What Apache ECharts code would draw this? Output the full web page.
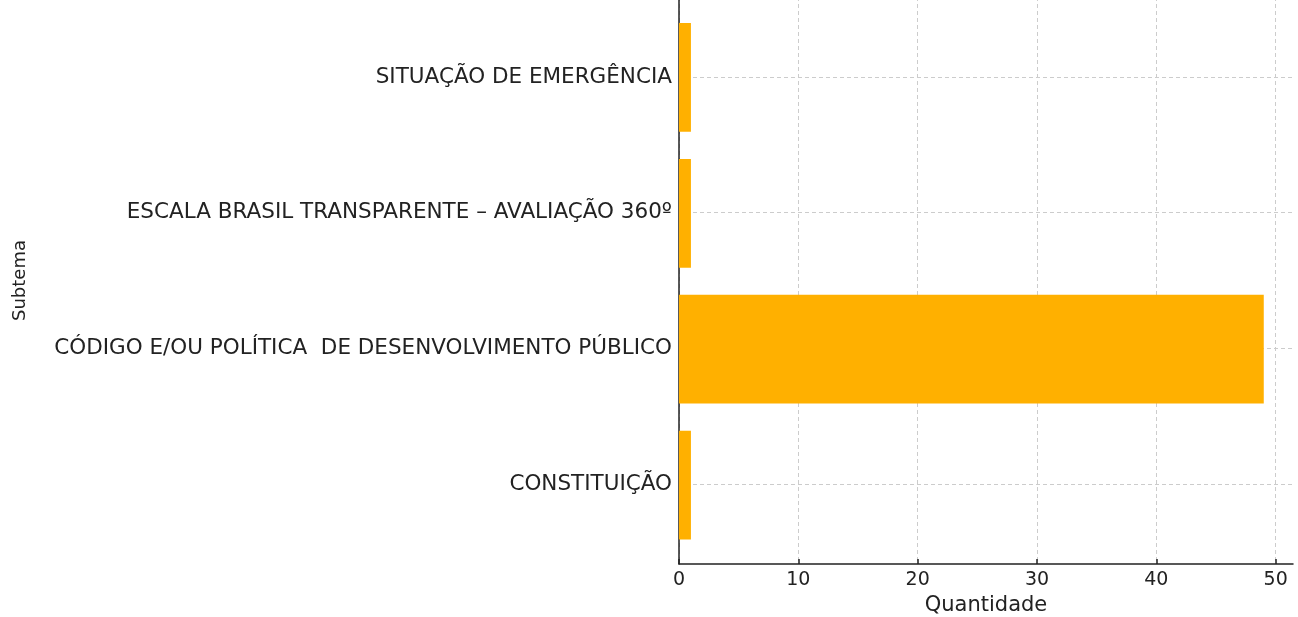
<!DOCTYPE html>
<html>
<head>
<meta charset="utf-8">
<script src="https://cdn.jsdelivr.net/npm/echarts@6/dist/echarts.min.js"></script>
<style>
    html, body { margin: 0; padding: 0; background: #fff; }
    #chart { width: 1298px; height: 617px; }
</style>
</head>
<body>
<div id="chart"></div>
<script>
// dados do gráfico (de baixo para cima)
var categories = [
    'CONSTITUIÇÃO',
    'CÓDIGO E/OU POLÍTICA  DE DESENVOLVIMENTO PÚBLICO',
    'ESCALA BRASIL TRANSPARENTE – AVALIAÇÃO 360º',
    'SITUAÇÃO DE EMERGÊNCIA'
];
var quantidades = [1, 49, 1, 1];
var xTicks = [0, 10, 20, 30, 40, 50];
var catPositions = [0, 1, 2, 3];

var textColor = '#222222';
var gridColor = '#cccccc';
var font = 'DejaVu Sans';

var chart = echarts.init(document.getElementById('chart'));

var option = {
    animation: false,
    backgroundColor: '#ffffff',
    grid: [
        // eixos, grades e rótulos
        { left: 679, right: 5, top: -3, bottom: 53, outerBoundsMode: 'none', containLabel: false },
        // barras (faixas de 136px centradas nos rótulos)
        { left: 679, right: 5, top: 9.5, bottom: 64, outerBoundsMode: 'none', containLabel: false }
    ],
    xAxis: [
        {
            gridIndex: 0,
            type: 'value',
            min: 0,
            max: 51.45,
            name: 'Quantidade',
            nameLocation: 'middle',
            nameGap: 30,
            nameTextStyle: { color: textColor, fontSize: 21, fontFamily: font },
            axisLine: { show: true, onZero: false, lineStyle: { color: '#222', width: 1.5 } },
            axisTick: { show: true, inside: true, length: 5, customValues: xTicks, lineStyle: { color: '#222', width: 1.5 } },
            axisLabel: { customValues: xTicks, color: textColor, fontSize: 19, fontFamily: font, margin: 7 },
            splitLine: { show: true, lineStyle: { color: gridColor, type: [4, 3], width: 1 } }
        },
        {
            gridIndex: 1,
            type: 'value',
            min: 0,
            max: 51.45,
            show: false
        }
    ],
    yAxis: [
        {
            gridIndex: 0,
            type: 'value',
            min: -0.59,
            max: 3.59,
            name: 'Subtema',
            nameLocation: 'middle',
            nameGap: 650,
            nameTextStyle: { color: textColor, fontSize: 18, fontFamily: font },
            axisLine: { show: true, onZero: false, lineStyle: { color: '#222', width: 1.5 } },
            axisTick: { show: true, inside: true, length: 5, customValues: catPositions, lineStyle: { color: '#222', width: 1.5 } },
            axisLabel: {
                customValues: catPositions,
                color: textColor,
                fontSize: 21.5,
                fontFamily: font,
                margin: 7,
                padding: [4, 0, 0, 0],
                formatter: function (v) {
                    return categories[Math.round(v)];
                }
            },
            splitLine: { show: true, lineStyle: { color: gridColor, type: [4, 3], width: 1 } }
        },
        {
            gridIndex: 1,
            type: 'category',
            data: categories,
            show: false
        }
    ],
    series: [
        {
            type: 'bar',
            xAxisIndex: 1,
            yAxisIndex: 1,
            data: quantidades,
            barWidth: '80%',
            z: 1,
            itemStyle: { color: '#ffb000' }
        }
    ]
};

chart.setOption(option);
</script>
</body>
</html>
